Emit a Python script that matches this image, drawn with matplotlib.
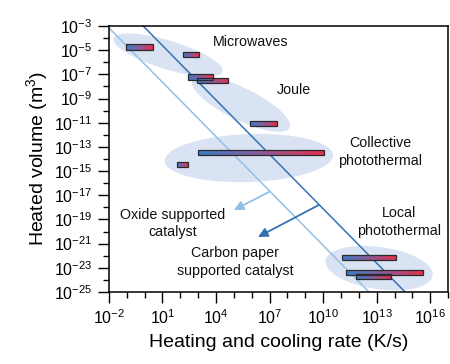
import numpy as np
import matplotlib
matplotlib.use("Agg")
import matplotlib.pyplot as plt
from matplotlib.colors import LinearSegmentedColormap
from matplotlib.patches import Rectangle, Polygon

plt.rcParams['font.family'] = ['Liberation Sans', 'DejaVu Sans']
plt.rcParams['mathtext.fontset'] = 'custom'
plt.rcParams['mathtext.rm'] = 'Liberation Sans'
plt.rcParams['mathtext.it'] = 'Liberation Sans:italic'
plt.rcParams['mathtext.bf'] = 'Liberation Sans:bold'

# ---- data (log10 units) ----
bar_x_start = [-1.05, 2.13, 2.43, 2.93, 5.92, 3.00, 1.83, 11.03, 11.26, 11.84]
bar_x_end   = [0.45, 3.02, 3.81, 4.68, 7.41, 10.05, 2.41, 14.06, 15.57, 13.78]
bar_y       = [-4.74, -5.38, -7.23, -7.52, -11.05, -13.44, -14.43, -22.17, -23.40, -23.74]
bar_half_h = 0.22

ell_names = ['Microwaves', 'Joule', 'Collective photothermal', 'Local photothermal']
ell_cx    = [1.31, 5.39, 5.84, 13.13]
ell_cy    = [-5.40, -9.45, -13.92, -23.02]
ell_a     = [3.19, 3.03, 4.71, 3.03]   # semi-major (x-decade units)
ell_b     = [0.80, 0.90, 1.34, 1.18]   # semi-minor (x-decade units)
ell_angle = [-17, -26, 2, -8]          # degrees (display)

line_slope = -1.5
dark_offset = -0.08
light_offset = -2.1

arrow_light_tail = (6.96, -16.73)
arrow_light_head = (5.00, -18.22)
arrow_dark_tail = (9.76, -17.80)
arrow_dark_head = (6.35, -20.45)

labels = ['Microwaves', 'Joule', 'Collective\nphotothermal', 'Oxide supported\ncatalyst',
          'Carbon paper\nsupported catalyst', 'Local\nphotothermal']
label_x = [5.96, 8.36, 13.18, 1.59, 5.06, 14.25]
label_y = [-4.36, -8.29, -13.42, -19.34, -22.52, -19.21]

x_major_exp = np.arange(-2, 17, 3)
x_minor_exp = np.arange(-2, 18, 1)
y_major_exp = np.arange(-25, -2, 2)
y_minor_exp = np.arange(-24, -3, 2)
xlim_exp = (-2, 17)
ylim_exp = (-25, -3)

# ---- figure ----
fig = plt.figure(figsize=(4.5, 3.64), dpi=100)
ax = fig.add_axes([0.242, 0.1978, 0.754, 0.7308])
ax.set_xscale('log')
ax.set_yscale('log')
ax.set_xlim(10.0**xlim_exp[0], 10.0**xlim_exp[1])
ax.set_ylim(10.0**ylim_exp[0], 10.0**ylim_exp[1])

pos = ax.get_position()
W = pos.width * 450
H = pos.height * 364
k = (H / (ylim_exp[1] - ylim_exp[0])) / (W / (xlim_exp[1] - xlim_exp[0]))

# ellipses
t = np.linspace(0, 2 * np.pi, 200)
for cx, cy, a, b, ang in zip(ell_cx, ell_cy, ell_a, ell_b, ell_angle):
    th = np.deg2rad(ang)
    u = a * np.cos(t) * np.cos(th) - b * np.sin(t) * np.sin(th)
    w = a * np.cos(t) * np.sin(th) + b * np.sin(t) * np.cos(th)
    lx = 10.0 ** (cx + u)
    ly = 10.0 ** (cy + w / k)
    ax.add_patch(Polygon(np.column_stack([lx, ly]), closed=True,
                         facecolor='#d9e3f4', edgecolor='none', zorder=1))

# lines
xl = np.linspace(-3, 18, 200)
ax.plot(10.0 ** xl, 10.0 ** (-3 + line_slope * (xl - dark_offset)), color='#3572b4', lw=1.1, zorder=2)
ax.plot(10.0 ** xl, 10.0 ** (-3 + line_slope * (xl - light_offset)), color='#93c0e6', lw=1.1, zorder=2)

# arrows
ax.annotate('', xy=(10.0 ** arrow_light_head[0], 10.0 ** arrow_light_head[1]),
            xytext=(10.0 ** arrow_light_tail[0], 10.0 ** arrow_light_tail[1]),
            arrowprops=dict(arrowstyle='-|>', color='#93c0e6', lw=1.3, mutation_scale=14,
                            shrinkA=0, shrinkB=0), zorder=3)
ax.annotate('', xy=(10.0 ** arrow_dark_head[0], 10.0 ** arrow_dark_head[1]),
            xytext=(10.0 ** arrow_dark_tail[0], 10.0 ** arrow_dark_tail[1]),
            arrowprops=dict(arrowstyle='-|>', color='#3572b4', lw=1.3, mutation_scale=14,
                            shrinkA=0, shrinkB=0), zorder=3)

# gradient bars
cmap = LinearSegmentedColormap.from_list('br', ['#3a7cc6', '#8a5b9c', '#e3304b'])
for x0, x1, yc in zip(bar_x_start, bar_x_end, bar_y):
    X = np.logspace(x0, x1, 61)
    Y = np.array([10.0 ** (yc - bar_half_h), 10.0 ** (yc + bar_half_h)])
    C = np.linspace(0, 1, 60)[None, :]
    ax.pcolormesh(X, Y, C, cmap=cmap, shading='flat', zorder=4)
    ax.add_patch(Rectangle((10.0 ** x0, Y[0]), 10.0 ** x1 - 10.0 ** x0, Y[1] - Y[0],
                           facecolor='none', edgecolor='#2b2b2b', lw=0.9, zorder=5))

# labels
for s, x, y in zip(labels, label_x, label_y):
    ax.text(10.0 ** x, 10.0 ** y, s, ha='center', va='center', fontsize=10.3,
            color='#111111', linespacing=1.3, zorder=6)

# ticks
ax.set_xticks(10.0 ** x_major_exp)
ax.set_xticks(10.0 ** x_minor_exp, minor=True)
ax.set_yticks(10.0 ** y_major_exp)
ax.set_yticks(10.0 ** y_minor_exp, minor=True)
ax.set_xticklabels([r'$10^{%d}$' % e for e in x_major_exp])
ax.set_yticklabels([r'$10^{%d}$' % e for e in y_major_exp])
ax.set_xticklabels([], minor=True)
ax.set_yticklabels([], minor=True)
ax.tick_params(which='major', direction='out', length=8, width=1.0, labelsize=11.5, pad=4)
ax.tick_params(which='minor', direction='out', length=4, width=1.0)
for sp in ax.spines.values():
    sp.set_linewidth(1.1)

ax.set_xlabel('Heating and cooling rate (K/s)', fontsize=14, labelpad=5)
ax.set_ylabel('Heated volume (m$^3$)', fontsize=14, labelpad=3)

fig.savefig('out.png', dpi=100)
